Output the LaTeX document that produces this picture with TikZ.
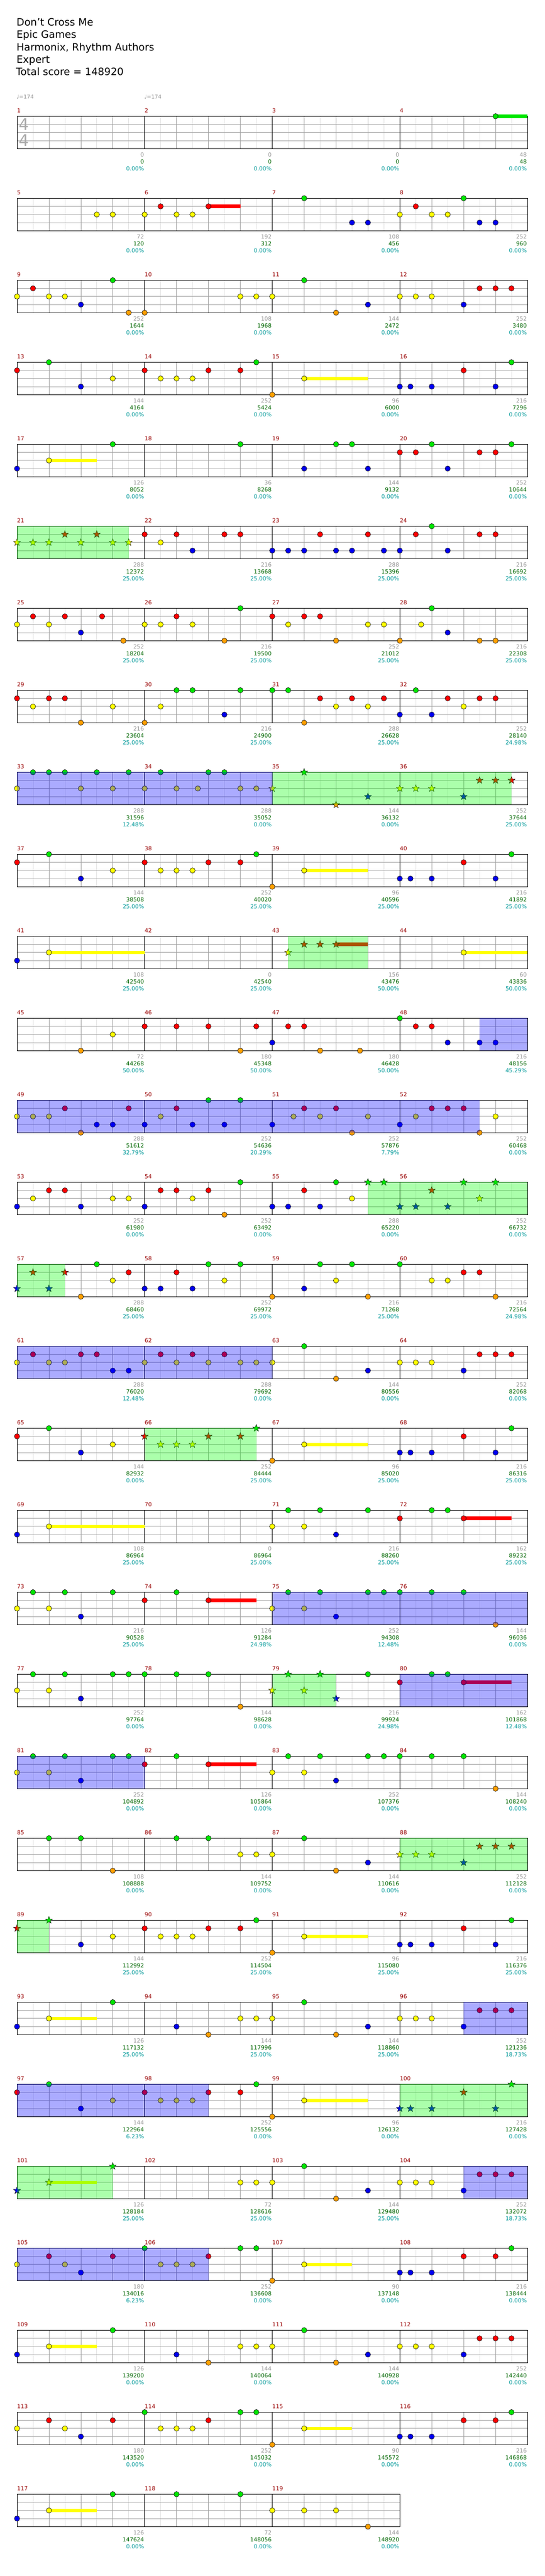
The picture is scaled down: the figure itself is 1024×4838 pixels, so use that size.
\documentclass[tikz,border=0pt]{standalone}
\usepackage{fontspec}
\setmainfont{DejaVu Sans}
\definecolor{c0}{RGB}{0,230,0}
\definecolor{c1}{RGB}{255,0,0}
\definecolor{c2}{RGB}{255,255,0}
\definecolor{c3}{RGB}{0,0,240}
\definecolor{c4}{RGB}{255,160,0}
\definecolor{mnum}{RGB}{153,0,0}
\definecolor{gnum}{RGB}{150,150,150}
\definecolor{snum}{RGB}{0,102,0}
\definecolor{pnum}{RGB}{0,153,153}
\definecolor{gridg}{RGB}{160,160,160}
\definecolor{gridl}{RGB}{224,224,224}
\definecolor{tsig}{RGB}{170,170,170}
\definecolor{spg}{RGB}{0,255,0}
\definecolor{spb}{RGB}{0,0,255}
\tikzset{
  sm/.style={inner sep=0pt,font=\fontsize{10.5}{12}\selectfont,text height=7.6pt,text depth=0pt},
  hd/.style={inner sep=0pt,font=\fontsize{19}{22}\selectfont,anchor=base west},
  notec/.style={draw=black,line width=0.6pt},
}
\newcommand\qTop[1]{\pgfmathsetmacro\qT{218.3+154*(#1-1)}}
\newcommand\Staff[3]{%
  \qTop{#1}%
  \pgfmathsetmacro\qB{\qT+61}%
  \pgfmathsetmacro\qR{32+239.75*#2}%
  \pgfmathtruncatemacro\qnb{8*#2-1}%
  \foreach \i in {1,...,\qnb}{%
    \pgfmathsetmacro\qx{32+29.96875*\i}%
    \pgfmathtruncatemacro\qme{mod(\i,2)}%
    \pgfmathtruncatemacro\qmd{mod(\i,8)}%
    \ifnum\qme=1 \draw[gridl,line width=0.7pt] (\qx,\qT) -- (\qx,\qB);%
    \else\ifnum\qmd>0 \draw[gridg,line width=0.7pt] (\qx,\qT) -- (\qx,\qB);\fi\fi
  }%
  \foreach \l in {1,2,3}{\draw[gridg,line width=0.8pt] (32,{\qT+15.25*\l}) -- (\qR,{\qT+15.25*\l});}%
  \pgfmathtruncatemacro\qnm{#2-1}%
  \foreach \k in {1,...,\qnm}{\draw[black,line width=0.7pt] ({32+239.75*\k},\qT) -- ({32+239.75*\k},\qB);}%
  \draw[black,line width=1pt] (32,\qT) rectangle (\qR,\qB);%
  \foreach \k in {1,...,#2}{%
    \pgfmathtruncatemacro\qmn{#3+\k-1}%
    \node[sm,text=mnum,anchor=west] (m\qmn) at ({32+239.75*(\k-1)},{\qT-11}) {\qmn};}%
}
\newcommand\Notes[2]{\qTop{#1}\foreach \b/\l in {#2}{%
  \filldraw[notec,fill=c\l] ({32+59.9375*\b},{\qT+15.25*\l}) circle (5pt);}}
\newcommand\Stars[2]{\qTop{#1}\foreach \b/\l in {#2}{%
  \filldraw[fill=c\l,draw=black,line width=0.5pt,shift={({32+59.9375*\b},{\qT+15.25*\l})}]
   (90:7pt) -- (126:2.9pt) -- (162:7pt) -- (198:2.9pt) -- (234:7pt) -- (270:2.9pt)
   -- (306:7pt) -- (342:2.9pt) -- (18:7pt) -- (54:2.9pt) -- cycle;}}
\newcommand\Sus[2]{\qTop{#1}\foreach \a/\e/\l in {#2}{%
  \fill[c\l] ({32+59.9375*\a},{\qT+15.25*\l-3.2}) rectangle ({32+59.9375*\e},{\qT+15.25*\l+3.2});}}
\newcommand\SP[4]{\qTop{#1}%
  \fill[#4,opacity=0.33] ({32+59.9375*#2},\qT) rectangle ({32+59.9375*#3},{\qT+61});}
\newcommand\Stats[4]{\qTop{#1}%
  \foreach \v [count=\k] in {#2}{\node[sm,text=gnum,anchor=east] (g#1-\k) at ({32+239.75*\k-1},{\qT+72.7}) {\v};}%
  \foreach \v [count=\k] in {#3}{\node[sm,text=snum,anchor=east] (s#1-\k) at ({32+239.75*\k-1},{\qT+85.7}) {\v};}%
  \foreach \v [count=\k] in {#4}{\node[sm,text=pnum,anchor=east] (p#1-\k) at ({32+239.75*\k-1},{\qT+98.7}) {\v\%};}}
\begin{document}
\begin{tikzpicture}[x=1pt,y=-1pt]
\useasboundingbox (0,0) rectangle (1024,4838);
\fill[white] (0,0) rectangle (1024,4838);
% header
\node[hd] (t1) at (31,48.6) {Don't Cross Me};
\node[hd] (t2) at (31,71.9) {Epic Games};
\node[hd] (t3) at (31,95.2) {Harmonix, Rhythm Authors};
\node[hd] (t4) at (31,118.6) {Expert};
\node[hd] (t5) at (30,141.9) {Total score = 148920};
\node[inner sep=0pt,anchor=base west,text=gnum,font=\fontsize{10}{12}\selectfont] (tp1) at (31,185) {♩=174};
\node[inner sep=0pt,anchor=base west,text=gnum,font=\fontsize{10}{12}\selectfont] (tp2) at (271,185) {♩=174};
% row 1
\Staff{1}{4}{1}
\node[inner sep=0pt,text=tsig,font=\fontsize{30}{30}\selectfont,text height=21.9pt,text depth=0pt] (ts1) at (45,233.9) {4};
\node[inner sep=0pt,text=tsig,font=\fontsize{30}{30}\selectfont,text height=21.9pt,text depth=0pt] (ts2) at (45,263.7) {4};
\Sus{1}{15/16/0}
\Notes{1}{15/0}
\Stats{1}{0,0,0,48}{0,0,0,48}{0.00,0.00,0.00,0.00}
% row 2
\Staff{2}{4}{5}
\Sus{2}{6/7/1}
\Notes{2}{2.5/2,3/2,4/2,4.5/1,5/2,5.5/2,6/1,9/0,10.5/3,11/3,12/2,12.5/1,13/2,13.5/2,14/0,14.5/3,15/3}
\Stats{2}{72,192,108,252}{120,312,456,960}{0.00,0.00,0.00,0.00}
% row 3
\Staff{3}{4}{9}
\Notes{3}{0/2,0.5/1,1/2,1.5/2,2/3,3/0,3.5/4,4/4,7/2,7.5/2,8/2,9/0,10/4,11/3,12/2,12.5/2,13/2,14/3,14.5/1,15/1,15.5/1}
\Stats{3}{252,108,144,252}{1644,1968,2472,3480}{0.00,0.00,0.00,0.00}
% row 4
\Staff{4}{4}{13}
\Sus{4}{9/11/2}
\Notes{4}{0/1,1/0,2/3,3/2,4/1,4.5/2,5/2,5.5/2,6/1,7/1,7.5/0,8/4,9/2,12/3,12.333/3,13/3,14/1,15/3,15.5/0}
\Stats{4}{144,252,96,216}{4164,5424,6000,7296}{0.00,0.00,0.00,0.00}
% row 5
\Staff{5}{4}{17}
\Sus{5}{1/2.5/2}
\Notes{5}{0/3,1/2,3/0,7/0,9/3,10/0,10.5/0,11/3,12/1,12.5/1,13/0,13.5/3,14.5/1,15/1,15.5/0}
\Stats{5}{126,36,144,252}{8052,8268,9132,10644}{0.00,0.00,0.00,0.00}
% row 6
\Staff{6}{4}{21}
\Stars{6}{0/2,0.5/2,1/2,1.5/1,2/2,2.5/1,3/2,3.5/2}
\Notes{6}{4/1,4.5/2,5/1,5.5/3,6.5/1,7/1,8/3,8.5/3,9/3,9.5/1,10/3,10.5/3,11/1,11.5/3,12/3,12.5/1,13/0,13.5/3,14.5/1,15/1}
\SP{6}{0}{3.5}{spg}
\Stats{6}{288,216,288,216}{12372,13668,15396,16692}{25.00,25.00,25.00,25.00}
% row 7
\Staff{7}{4}{25}
\Notes{7}{0/2,0.5/1,1/2,1.5/1,2/3,2.667/1,3.333/4,4/2,4.5/2,5/1,5.5/2,6.5/4,7/0,8/1,8.5/2,9/1,9.5/1,10/4,11/2,11.5/2,12/4,12.667/2,13/0,13.5/3,14.5/4,15/4}
\Stats{7}{252,216,252,216}{18204,19500,21012,22308}{25.00,25.00,25.00,25.00}
% row 8
\Staff{8}{4}{29}
\Notes{8}{0/1,0.5/2,1/1,1.5/1,2/4,3/2,4/4,4.5/2,5/0,5.5/0,6.5/3,7/0,8/0,8.5/0,9/4,9.5/1,10/2,10.5/1,11/2,11.5/1,12/3,12.5/0,13/3,13.5/1,14/2,14.5/1,15/1}
\Stats{8}{216,216,288,252}{23604,24900,26628,28140}{25.00,25.00,25.00,24.98}
% row 9
\Staff{9}{4}{33}
\Notes{9}{0/2,0.5/0,1/0,1.5/0,2/2,2.5/0,3/2,3.5/0,4/2,4.5/0,5/2,5.667/2,6/0,6.5/0,7/2,7.5/2}
\Stars{9}{8/2,9/0,10/4,11/3,12/2,12.5/2,13/2,14/3,14.5/1,15/1,15.5/1}
\SP{9}{0}{8}{spb}
\SP{9}{8}{15.5}{spg}
\Stats{9}{288,288,144,252}{31596,35052,36132,37644}{12.48,0.00,0.00,25.00}
% row 10
\Staff{10}{4}{37}
\Sus{10}{9/11/2}
\Notes{10}{0/1,1/0,2/3,3/2,4/1,4.5/2,5/2,5.5/2,6/1,7/1,7.5/0,8/4,9/2,12/3,12.333/3,13/3,14/1,15/3,15.5/0}
\Stats{10}{144,252,96,216}{38508,40020,40596,41892}{25.00,25.00,25.00,25.00}
% row 11
\Staff{11}{4}{41}
\Sus{11}{1/4/2,14/16/2,10/11/1}
\Notes{11}{0/3,1/2,14/2}
\Stars{11}{8.5/2,9/1,9.5/1,10/1}
\SP{11}{8.5}{11}{spg}
\Stats{11}{108,0,156,60}{42540,42540,43476,43836}{25.00,25.00,50.00,50.00}
% row 12
\Staff{12}{4}{45}
\Notes{12}{2/4,3/2,4/1,5/1,6/1,7/4,7.5/1,8/3,8.5/1,9/1,9.5/4,10.75/4,12/0,12.5/1,13/1,13.5/3,14.5/3,15/3}
\SP{12}{14.5}{16}{spb}
\Stats{12}{72,180,180,216}{44268,45348,46428,48156}{50.00,50.00,50.00,45.29}
% row 13
\Staff{13}{4}{49}
\Notes{13}{0/2,0.5/2,1/2,1.5/1,2/4,2.5/3,3/3,3.5/1,4/3,4.5/2,5/1,5.5/3,6/0,6.5/3,7/0,8/3,8.667/2,9/1,9.5/2,10/1,10.5/4,11/2,12/3,12.5/2,13/1,13.5/1,14/1,14.5/4,15/2}
\SP{13}{0}{14.5}{spb}
\Stats{13}{288,252,252,252}{51612,54636,57876,60468}{32.79,20.29,7.79,0.00}
% row 14
\Staff{14}{4}{53}
\Notes{14}{0/3,0.5/2,1/1,1.5/1,2/3,3/2,3.5/2,4/3,4.5/1,5/1,5.5/2,6/1,6.5/4,7/0,8/3,8.5/3,9/1,9.5/3,10/0,10.5/2}
\Stars{14}{11/0,11.5/0,12/3,12.5/3,13/1,13.5/3,14/0,14.5/2,15/0}
\SP{14}{11}{16}{spg}
\Stats{14}{252,252,288,252}{61980,63492,65220,66732}{0.00,0.00,0.00,0.00}
% row 15
\Staff{15}{4}{57}
\Stars{15}{0/3,0.5/1,1/3,1.5/1}
\Notes{15}{2/4,2.5/0,3/2,3.5/1,4/3,4.5/3,5/1,5.5/3,6/0,6.5/2,7/0,8/4,9/3,9.5/0,10/2,10.5/0,11/4,12/0,13/2,13.5/2,14/1,14.5/1,15/4}
\SP{15}{0}{1.5}{spg}
\Stats{15}{288,252,216,216}{68460,69972,71268,72564}{25.00,25.00,25.00,24.98}
% row 16
\Staff{16}{4}{61}
\Notes{16}{0/2,0.5/1,1/2,1.5/2,2/1,2.5/1,3/3,3.5/3,4/2,4.5/1,5/2,5.5/1,6/2,6.5/1,7/2,7.5/2,8/2,9/0,10/4,11/3,12/2,12.5/2,13/2,14/3,14.5/1,15/1,15.5/1}
\SP{16}{0}{8}{spb}
\Stats{16}{288,288,144,252}{76020,79692,80556,82068}{12.48,0.00,0.00,0.00}
% row 17
\Staff{17}{4}{65}
\Sus{17}{9/11/2}
\Notes{17}{0/1,1/0,2/3,3/2,8/4,9/2,12/3,12.333/3,13/3,14/1,15/3,15.5/0}
\Stars{17}{4/1,4.5/2,5/2,5.5/2,6/1,7/1,7.5/0}
\SP{17}{4}{7.5}{spg}
\Stats{17}{144,252,96,216}{82932,84444,85020,86316}{0.00,25.00,25.00,25.00}
% row 18
\Staff{18}{4}{69}
\Sus{18}{1/4/2,14/15.5/1}
\Notes{18}{0/3,1/2,8/2,8.5/0,9/2,9.5/0,10/3,11/0,12/1,13/0,13.5/0,14/1}
\Stats{18}{108,0,216,162}{86964,86964,88260,89232}{25.00,25.00,25.00,25.00}
% row 19
\Staff{19}{4}{73}
\Sus{19}{6/7.5/1}
\Notes{19}{0/2,0.5/0,1/2,1.5/0,2/3,3/0,4/1,5/0,6/1,8/2,8.5/0,9/2,9.5/0,10/3,11/0,11.5/0,12/0,13/0,14/0,15/4}
\SP{19}{8}{16}{spb}
\Stats{19}{216,126,252,144}{90528,91284,94308,96036}{25.00,24.98,12.48,0.00}
% row 20
\Staff{20}{4}{77}
\Sus{20}{14/15.5/1}
\Notes{20}{0/2,0.5/0,1/2,1.5/0,2/3,3/0,3.5/0,4/0,5/0,6/0,7/4,11/0,12/1,13/0,13.5/0,14/1}
\Stars{20}{8/2,8.5/0,9/2,9.5/0,10/3}
\SP{20}{8}{10}{spg}
\SP{20}{12}{16}{spb}
\Stats{20}{252,144,216,162}{97764,98628,99924,101868}{0.00,0.00,24.98,12.48}
% row 21
\Staff{21}{4}{81}
\Sus{21}{6/7.5/1}
\Notes{21}{0/2,0.5/0,1/2,1.5/0,2/3,3/0,3.5/0,4/1,5/0,6/1,8/2,8.5/0,9/2,9.5/0,10/3,11/0,11.5/0,12/0,13/0,14/0,15/4}
\SP{21}{0}{4}{spb}
\Stats{21}{252,126,252,144}{104892,105864,107376,108240}{0.00,0.00,0.00,0.00}
% row 22
\Staff{22}{4}{85}
\Notes{22}{1/0,2/0,3/4,5/0,6/0,7/2,7.5/2,8/2,9/0,10/4,11/3}
\Stars{22}{12/2,12.5/2,13/2,14/3,14.5/1,15/1,15.5/1}
\SP{22}{12}{16}{spg}
\Stats{22}{108,144,144,252}{108888,109752,110616,112128}{0.00,0.00,0.00,0.00}
% row 23
\Staff{23}{4}{89}
\Sus{23}{9/11/2}
\Stars{23}{0/1,1/0}
\Notes{23}{2/3,3/2,4/1,4.5/2,5/2,5.5/2,6/1,7/1,7.5/0,8/4,9/2,12/3,12.333/3,13/3,14/1,15/3,15.5/0}
\SP{23}{0}{1}{spg}
\Stats{23}{144,252,96,216}{112992,114504,115080,116376}{25.00,25.00,25.00,25.00}
% row 24
\Staff{24}{4}{93}
\Sus{24}{1/2.5/2}
\Notes{24}{0/3,1/2,3/0,5/3,6/4,7/2,7.5/2,8/2,9/0,10/4,11/3,12/2,12.5/2,13/2,14/3,14.5/1,15/1,15.5/1}
\SP{24}{14}{16}{spb}
\Stats{24}{126,144,144,252}{117132,117996,118860,121236}{25.00,25.00,25.00,18.73}
% row 25
\Staff{25}{4}{97}
\Sus{25}{9/11/2}
\Notes{25}{0/1,1/0,2/3,3/2,4/1,4.5/2,5/2,5.5/2,6/1,7/1,7.5/0,8/4,9/2}
\Stars{25}{12/3,12.333/3,13/3,14/1,15/3,15.5/0}
\SP{25}{0}{6}{spb}
\SP{25}{12}{16}{spg}
\Stats{25}{144,252,96,216}{122964,125556,126132,127428}{6.23,0.00,0.00,0.00}
% row 26
\Staff{26}{4}{101}
\Sus{26}{1/2.5/2}
\Stars{26}{0/3,1/2,3/0}
\Notes{26}{7/2,7.5/2,8/2,9/0,10/4,11/3,12/2,12.5/2,13/2,14/3,14.5/1,15/1,15.5/1}
\SP{26}{0}{3}{spg}
\SP{26}{14}{16}{spb}
\Stats{26}{126,72,144,252}{128184,128616,129480,132072}{25.00,25.00,25.00,18.73}
% row 27
\Staff{27}{4}{105}
\Sus{27}{9/10.5/2}
\Notes{27}{0/2,1/1,1.5/2,2/3,3/1,4/0,4.5/2,5/2,5.5/2,6/1,7/0,7.5/0,8/4,9/2,12/3,12.333/3,13/3,14/1,15/1,15.5/0}
\SP{27}{0}{6}{spb}
\Stats{27}{180,252,90,216}{134016,136608,137148,138444}{6.23,0.00,0.00,0.00}
% row 28
\Staff{28}{4}{109}
\Sus{28}{1/2.5/2}
\Notes{28}{0/3,1/2,3/0,5/3,6/4,7/2,7.5/2,8/2,9/0,10/4,11/3,12/2,12.5/2,13/2,14/3,14.5/1,15/1,15.5/1}
\Stats{28}{126,144,144,252}{139200,140064,140928,142440}{0.00,0.00,0.00,0.00}
% row 29
\Staff{29}{4}{113}
\Sus{29}{9/10.5/2}
\Notes{29}{0/2,1/1,1.5/2,2/3,3/1,4/0,4.5/2,5/2,5.5/2,6/1,7/0,7.5/0,8/4,9/2,12/3,12.333/3,13/3,14/1,15/1,15.5/0}
\Stats{29}{180,252,90,216}{143520,145032,145572,146868}{0.00,0.00,0.00,0.00}
% row 30
\Staff{30}{3}{117}
\Sus{30}{1/2.5/2}
\Notes{30}{0/3,1/2,3/0,5/0,7/0,8/2,9/2,10/2,11/4}
\Stats{30}{126,72,144}{147624,148056,148920}{0.00,0.00,0.00}
\end{tikzpicture}
\end{document}
